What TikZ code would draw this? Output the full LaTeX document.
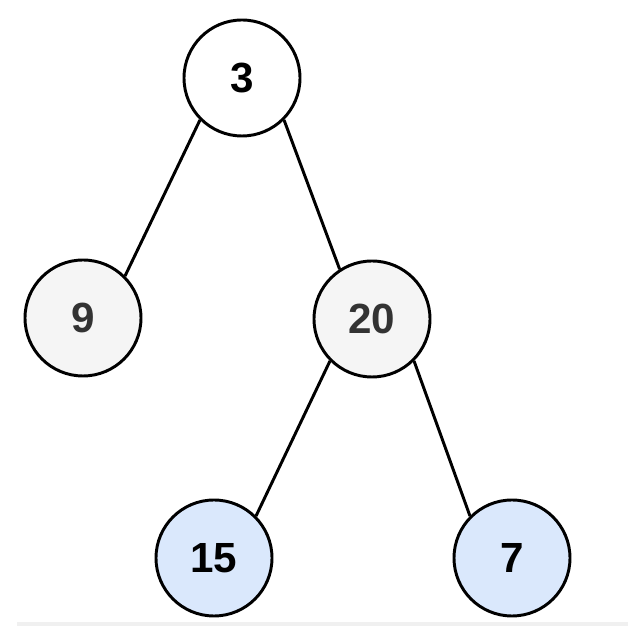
\documentclass[tikz,border=0pt]{standalone}
\usepackage{fontspec}
\setsansfont{Liberation Sans}
\usepackage{tikz}
\usetikzlibrary{positioning}
\definecolor{nodegray}{HTML}{F5F5F5}
\definecolor{nodeblue}{HTML}{DAE8FC}
\definecolor{textgray}{HTML}{333333}
\definecolor{bargray}{HTML}{F0F0F0}

\begin{document}
\begin{tikzpicture}[
  vertex/.style={circle, draw=black, line width=2.1pt, minimum size=2.9cm, inner sep=0pt,
    font=\sffamily\bfseries\fontsize{30}{36}\selectfont, fill=#1},
  edge/.style={line width=2.1pt, color=black},
]
  \useasboundingbox (0,0) rectangle (15.7,15.65);
  \fill[bargray] (0.425,0) rectangle (15.7,0.1);

  \node[vertex=white]                        (root)  at (6.05,13.7)  {3};
  \node[vertex=nodegray, text=textgray]      (left)  at (2.075,7.7)  {9};
  \node[vertex=nodegray, text=textgray]      (right) at (9.3,7.675)  {20};
  \node[vertex=nodeblue]                     (rl)    at (5.35,1.7)   {15};
  \node[vertex=nodeblue]                     (rr)    at (12.8,1.7)   {7};

  \draw[edge] (root.south west) -- (left.north east);
  \draw[edge] (root.south east) -- (right.123);
  \draw[edge] (right.south west) -- (rl.north east);
  \draw[edge] (right.south east) -- (rr.north west);
\end{tikzpicture}
\end{document}
